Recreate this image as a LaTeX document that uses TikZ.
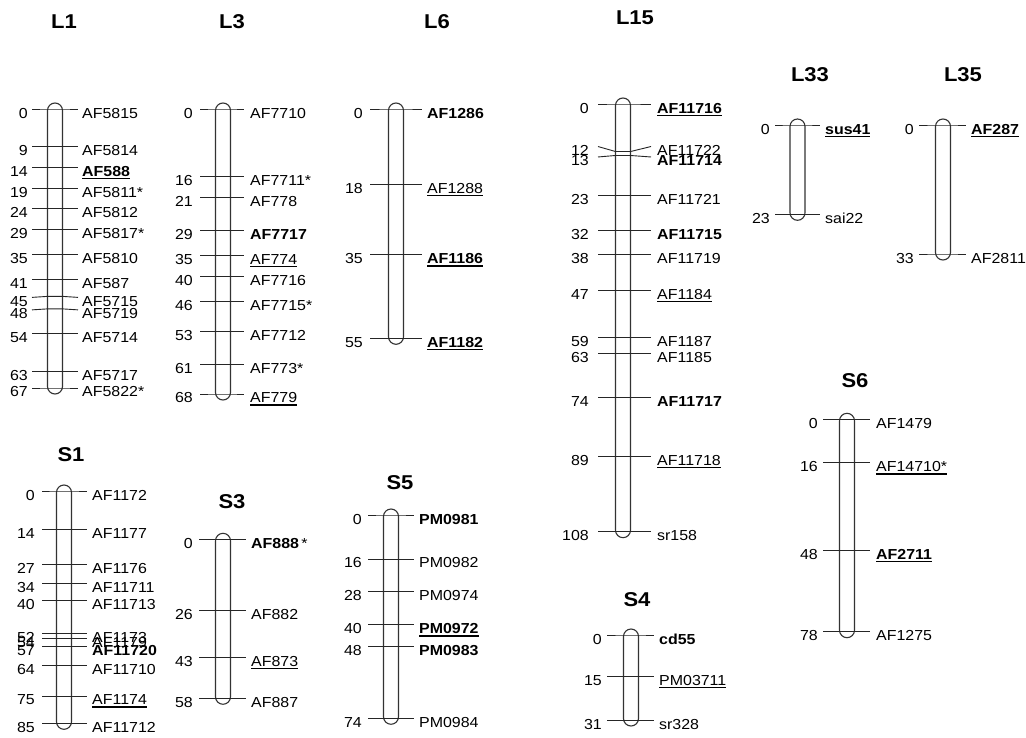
\documentclass[tikz,border=0pt]{standalone}
\usepackage{fontspec}
\setmainfont[FakeStretch=1.1]{Liberation Sans}
\newcommand\ulx[1]{\setbox0\hbox{#1}\rlap{\rule[-2.8pt]{\wd0}{1.3pt}}\box0}
\newcommand\setchrom[8]{\def\cx{#1}\def\cyo{#2}\def\csc{#3}\def\cid{#4}\def\ctl{#5}\def\ctr{#6}\def\cno{#7}\def\clo{#8}}
\newcommand\chrombar[1]{%
  \pgfmathsetmacro\ye{\cyo+#1*\csc}%
  \draw[barstyle] (\cx-7.5,\cyo-6) rectangle (\cx+7.5,\ye+6);%
}
\newcommand\mk[3][0]{%
  \pgfmathsetmacro\yy{\cyo+#2*\csc}%
  \pgfmathsetmacro\yd{\yy+#1}%
  \draw[tickline] (\cx-\ctl,\yd) -- (\cx-7.5,\yy) -- (\cx+7.5,\yy) -- (\cx+\ctr,\yd);%
  \node[num] (n\cid-#2) at (\cx-\cno,\yd+9) {#2};%
  \node[lab] (l\cid-#2) at (\cx+\clo,\yd+9) {#3};%
}
\tikzset{
  num/.style={anchor=base east, inner sep=0pt, font=\fontsize{14.5}{16}\selectfont},
  lab/.style={anchor=base west, inner sep=0pt, font=\fontsize{14.5}{16}\selectfont},
  tickline/.style={draw=black!85, line width=0.9pt},
  barstyle/.style={draw=black!80, fill=white, line width=1.1pt, rounded corners=7.5pt},
  ttl/.style={font=\fontsize{20}{22}\selectfont\bfseries, inner sep=0pt}
}
\begin{document}
\begin{tikzpicture}[x=1pt,y=-1pt]
\fill[white] (0,0) rectangle (1026,737);
\useasboundingbox (0,0) rectangle (1026,737);
% titles
\node[ttl] (tL1) at (64,22) {L1};
\node[ttl] (tL3) at (232,22) {L3};
\node[ttl] (tL6) at (437,22) {L6};
\node[ttl] (tL15) at (635,18) {L15};
\node[ttl] (tL33) at (810,75) {L33};
\node[ttl] (tL35) at (963,75) {L35};
\node[ttl] (tS1) at (71,455) {S1};
\node[ttl] (tS3) at (232,502) {S3};
\node[ttl] (tS5) at (400,483) {S5};
\node[ttl] (tS4) at (637,600) {S4};
\node[ttl] (tS6) at (855,381) {S6};
% L1
\setchrom{55}{109}{4.164}{L1}{23}{23}{27}{27}
\chrombar{67}
\mk{0}{AF5815}
\mk{9}{AF5814}
\mk{14}{\ulx{\textbf{AF588}}}
\mk{19}{AF5811*}
\mk{24}{AF5812}
\mk{29}{AF5817*}
\mk{35}{AF5810}
\mk{41}{AF587}
\mk[1]{45}{AF5715}
\mk[1]{48}{AF5719}
\mk{54}{AF5714}
\mk{63}{AF5717}
\mk{67}{AF5822*}
% L3
\setchrom{223}{109}{4.191}{L3}{23}{21}{30}{27}
\chrombar{68}
\mk{0}{AF7710}
\mk{16}{AF7711*}
\mk{21}{AF778}
\mk{29}{\textbf{AF7717}}
\mk{35}{\ulx{AF774}}
\mk{40}{AF7716}
\mk{46}{AF7715*}
\mk{53}{AF7712}
\mk{61}{AF773*}
\mk{68}{\ulx{AF779}}
% L6
\setchrom{396}{109}{4.169}{L6}{26}{26}{33}{31}
\chrombar{55}
\mk{0}{\textbf{AF1286}}
\mk{18}{\ulx{AF1288}}
\mk{35}{\ulx{\textbf{AF1186}}}
\mk{55}{\ulx{\textbf{AF1182}}}
% L15
\setchrom{623}{104}{3.960}{L15}{25}{28}{34}{34}
\chrombar{108}
\mk{0}{\ulx{\textbf{AF11716}}}
\mk[-5]{12}{AF11722}
\mk[1.5]{13}{\textbf{AF11714}}
\mk{23}{AF11721}
\mk{32}{\textbf{AF11715}}
\mk{38}{AF11719}
\mk{47}{\ulx{AF1184}}
\mk{59}{AF1187}
\mk{63}{AF1185}
\mk{74}{\textbf{AF11717}}
\mk{89}{\ulx{AF11718}}
\mk{108}{sr158}
% L33
\setchrom{797.5}{125}{3.883}{L33}{22.5}{22.5}{27.5}{27.5}
\chrombar{23}
\mk{0}{\ulx{\textbf{sus41}}}
\mk{23}{sai22}
% L35
\setchrom{943}{125}{3.909}{L35}{24}{23}{29}{28}
\chrombar{33}
\mk{0}{\ulx{\textbf{AF287}}}
\mk{33}{AF2811}
% S1
\setchrom{64}{491}{2.733}{S1}{22}{23}{29}{28}
\chrombar{85}
\mk{0}{AF1172}
\mk{14}{AF1177}
\mk{27}{AF1176}
\mk{34}{AF11711}
\mk{40}{AF11713}
\mk{52}{AF1173}
\mk{54}{AF1179}
\mk{57}{\textbf{AF11720}}
\mk{64}{AF11710}
\mk{75}{\ulx{AF1174}}
\mk{85}{AF11712}
% S3
\setchrom{223}{539.3}{2.741}{S3}{24}{23}{30}{28}
\chrombar{58}
\mk{0}{\textbf{AF888}\,*}
\mk{26}{AF882}
\mk{43}{\ulx{AF873}}
\mk{58}{AF887}
% S5
\setchrom{391}{515}{2.747}{S5}{23}{23}{29}{28}
\chrombar{74}
\mk{0}{\textbf{PM0981}}
\mk{16}{PM0982}
\mk{28}{PM0974}
\mk{40}{\ulx{\textbf{PM0972}}}
\mk{48}{\textbf{PM0983}}
\mk{74}{PM0984}
% S4
\setchrom{631}{635}{2.742}{S4}{24}{23}{29}{28}
\chrombar{31}
\mk{0}{\textbf{cd55}}
\mk{15}{\ulx{PM03711}}
\mk{31}{sr328}
% S6
\setchrom{847}{419.3}{2.723}{S6}{24}{23}{29}{29}
\chrombar{78}
\mk{0}{AF1479}
\mk{16}{\ulx{AF14710*}}
\mk{48}{\ulx{\textbf{AF2711}}}
\mk{78}{AF1275}
\end{tikzpicture}
\end{document}
